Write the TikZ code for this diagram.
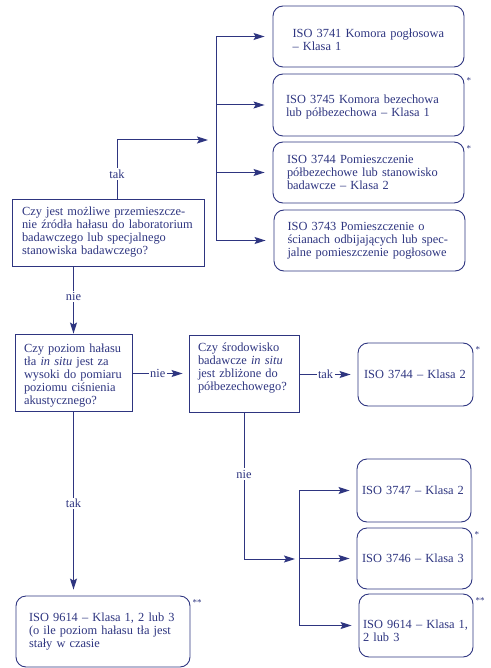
\documentclass[tikz,border=0pt]{standalone}
\usepackage{fontspec}
\setmainfont{Liberation Serif}
\usepackage{tikz}
\usetikzlibrary{positioning,arrows.meta}
\usepackage{xcolor}
\definecolor{ink}{HTML}{2E3580}

\begin{document}
\begin{tikzpicture}[x=1pt, y=-1pt, >={Stealth[length=11pt,width=7pt,inset=2pt]}, font=\fontsize{12.4}{13}\selectfont, color=ink]
\tikzstyle{question} = [draw, line width=0.9pt, align=left, inner sep=0pt]
\tikzstyle{result} = [draw, rounded corners=10pt, line width=0.9pt, align=left, inner sep=0pt]
\tikzstyle{link} = [->, line width=1pt]
\tikzstyle{answer} = [fill=white, inner sep=1.5pt]
\tikzstyle{starmark} = [font=\fontsize{9}{9}\selectfont, inner sep=0pt]
\useasboundingbox (0,0) rectangle (490,668);

% questions
\node[question, minimum width=192pt, minimum height=67pt, text width=172pt] (move) at (108,232.5)
  {Czy jest możliwe przemieszcze-\\nie źródła hałasu do laboratorium\\badawczego lub specjalnego\\stanowiska badawczego?};
\node[question, minimum width=117pt, minimum height=77pt, text width=99pt] (noise) at (73.5,372.5)
  {\rule{0pt}{15.5pt}Czy poziom hałasu\\tła \textit{in situ} jest za\\wysoki do pomiaru\\poziomu ciśnienia\\akustycznego?};
\node[question, minimum width=110pt, minimum height=77pt, text width=92pt] (field) at (244,373.5)
  {Czy środowisko\\badawcze \textit{in situ}\\jest zbliżone do\\półbezechowego?\rule[-12.7pt]{0pt}{0pt}};

% results, upper group
\node[result, minimum width=191pt, minimum height=61pt, text width=152pt] (iso3741) at (368.5,36.5)
  {\rule{0pt}{14.5pt}ISO 3741 Komora pogłosowa\\– Klasa 1};
\node[result, minimum width=191pt, minimum height=62pt, text width=165pt] (iso3745) at (368.5,105)
  {\rule{0pt}{12.5pt}ISO 3745 Komora bezechowa\\lub półbezechowa – Klasa 1};
\node[result, minimum width=191pt, minimum height=61pt, text width=163pt] (iso3744a) at (368.5,172.5)
  {ISO 3744 Pomieszczenie\\półbezechowe lub stanowisko\\badawcze – Klasa 2};
\node[result, minimum width=191pt, minimum height=61pt, text width=164pt] (iso3743) at (369.5,240.5)
  {ISO 3743 Pomieszczenie o\\ścianach odbijających lub spec-\\jalne pomieszczenie pogłosowe};

% results, lower group
\node[result, minimum width=115pt, minimum height=63pt, text width=103pt] (iso3744b) at (415.5,374.5)
  {ISO 3744 – Klasa 2};
\node[result, minimum width=114pt, minimum height=63pt, text width=104pt] (iso3747) at (414,490.5)
  {ISO 3747 – Klasa 2};
\node[result, minimum width=115pt, minimum height=61pt, text width=105pt] (iso3746) at (414.5,558.5)
  {ISO 3746 – Klasa 3};
\node[result, minimum width=114pt, minimum height=63pt, text width=106pt] (iso9614b) at (416,625.5)
  {\rule{0pt}{20pt}ISO~9614~–~Klasa~1,\\2 lub 3};
\node[result, minimum width=174pt, minimum height=71pt, text width=148pt] (iso9614a) at (103,631.5)
  {ISO 9614 – Klasa 1, 2 lub 3\\(o ile poziom hałasu tła jest\\stały w czasie};

% footnote marks
\node[starmark, anchor=south west] at ([xshift=2pt,yshift=-10pt]iso3745.north east) {*};
\node[starmark, anchor=south west] at ([xshift=2pt,yshift=-10pt]iso3744a.north east) {*};
\node[starmark, anchor=south west] at ([xshift=2pt,yshift=-10pt]iso3744b.north east) {*};
\node[starmark, anchor=south west] at ([xshift=2pt,yshift=-10pt]iso3746.north east) {*};
\node[starmark, anchor=south west] at ([xshift=2pt,yshift=-10pt]iso9614b.north east) {**};
\node[starmark, anchor=south west] at ([xshift=2pt,yshift=-10pt]iso9614a.north east) {**};

% buses
\coordinate (busA) at (216,140);
\coordinate (busB) at (299,559);
\coordinate (turnA) at (117,140);
\draw[line width=1pt] (iso3741.west -| busA) -- (iso3743.west -| busA);
\draw[line width=1pt] (iso3747.west -| busB) -- (iso9614b.west -| busB);

% connectors
\draw[link, shorten >=8pt] (move.north -| turnA) -- node[answer, pos=0.42] {tak} (turnA) -- (busA);
\foreach \r in {iso3741, iso3745, iso3744a, iso3743}
  \draw[link, shorten >=8pt] (\r.west -| busA) -- (\r.west);
\draw[link] (move.south -| noise.north) -- node[answer, pos=0.45] {nie} (noise.north);
\draw[link, shorten >=6pt] (noise.east |- field.west) -- node[answer, pos=0.45] {nie} (field.west);
\draw[link, shorten >=7pt] (field.east |- iso3744b.west) -- node[answer, pos=0.45] {tak} (iso3744b.west);
\draw[link, shorten >=6pt] (noise.south) -- node[answer, pos=0.5] {tak} (noise.south |- iso9614a.north);
\draw[link, shorten >=4pt] (field.south) -- node[answer, pos=0.42] {nie} (field.south |- busB) -- (busB);
\foreach \r in {iso3747, iso3746, iso9614b}
  \draw[link, shorten >=7pt] (\r.west -| busB) -- (\r.west);
\end{tikzpicture}
\end{document}
